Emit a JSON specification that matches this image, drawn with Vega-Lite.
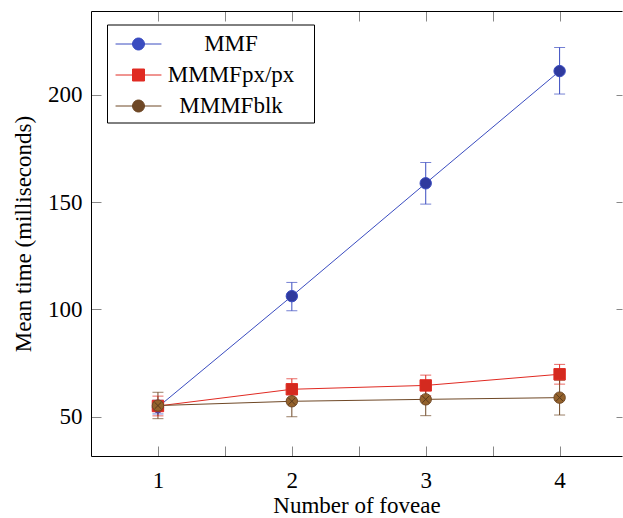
{
  "$schema": "https://vega.github.io/schema/vega-lite/v6.json",
  "width": 531,
  "height": 445,
  "autosize": {"type": "none"},
  "padding": {"left": 91, "top": 11, "right": 1, "bottom": 62},
  "background": "white",
  "config": {
    "view": {"stroke": null},
    "axis": {
      "grid": false,
      "domainColor": "black",
      "domainWidth": 1,
      "tickColor": "#888888",
      "tickWidth": 1,
      "labelFont": "Liberation Serif",
      "labelFontSize": 23,
      "labelColor": "black",
      "titleFont": "Liberation Serif",
      "titleFontSize": 23,
      "titleFontWeight": "normal",
      "titleColor": "black"
    },
    "legend": {
      "orient": "none", "legendX": 16, "legendY": 13.5, "title": null,
      "symbolSize": 900, "symbolStrokeWidth": 1, "symbolOpacity": 1, "symbolOffset": 12,
      "labelFont": "Liberation Serif", "labelFontSize": 23, "labelColor": "black",
      "labelAlign": "center", "labelOffset": 77, "labelLimit": 300,
      "padding": 4, "rowPadding": 3,
      "strokeColor": "black", "fillColor": "white", "cornerRadius": 0
    }
  },
  "data": {
    "values": [
      {"series": "MMF", "x": 1, "y": 54.5, "lo": 51.3, "hi": 57.7},
      {"series": "MMF", "x": 2, "y": 106.2, "lo": 99.4, "hi": 112.6},
      {"series": "MMF", "x": 3, "y": 158.8, "lo": 149.1, "hi": 168.5},
      {"series": "MMF", "x": 4, "y": 211.1, "lo": 200.4, "hi": 222.1},
      {"series": "MMMFpx/px", "x": 1, "y": 55.0, "lo": 50.4, "hi": 59.6},
      {"series": "MMMFpx/px", "x": 2, "y": 62.8, "lo": 57.8, "hi": 67.7},
      {"series": "MMMFpx/px", "x": 3, "y": 64.6, "lo": 59.8, "hi": 69.4},
      {"series": "MMMFpx/px", "x": 4, "y": 69.8, "lo": 65.2, "hi": 74.4},
      {"series": "MMMFblk", "x": 1, "y": 55.2, "lo": 49.1, "hi": 61.4},
      {"series": "MMMFblk", "x": 2, "y": 57.2, "lo": 50.0, "hi": 64.4},
      {"series": "MMMFblk", "x": 3, "y": 58.1, "lo": 50.5, "hi": 65.7},
      {"series": "MMMFblk", "x": 4, "y": 58.9, "lo": 50.8, "hi": 67.0}
    ]
  },
  "layer": [
    {
      "mark": {"type": "rule", "strokeWidth": 1},
      "encoding": {
        "x": {"field": "x", "type": "quantitative", "scale": {"domain": [0.5, 4.466], "nice": false, "zero": false},
          "axis": {"orient": "bottom", "title": "Number of foveae", "values": [1, 1.5, 2, 2.5, 3, 3.5, 4],
            "labelExpr": "datum.value % 1 ? '' : format(datum.value, 'd')", "tickSize": -10, "labelPadding": 23, "titlePadding": 2,
            "encode": {"ticks": {"y2": {"value": {"expr": "datum.value % 1 ? -6.5 : -10"}}}}}},
        "y": {"field": "lo", "type": "quantitative", "scale": {"domain": [31.7, 239.1], "nice": false, "zero": false},
          "axis": {"orient": "left", "title": "Mean time (milliseconds)", "values": [50, 100, 150, 200], "tickSize": -10, "labelPadding": 19, "titlePadding": 12}},
        "y2": {"field": "hi"},
        "color": {"field": "series", "type": "nominal", "scale": {"domain": ["MMF", "MMMFpx/px", "MMMFblk"], "range": ["#3a4cc0", "#e02a22", "#6f4826"]}}
      }
    },
    {
      "mark": {"type": "tick", "orient": "horizontal", "size": 11, "thickness": 1},
      "encoding": {
        "x": {"field": "x", "type": "quantitative", "axis": null},
        "y": {"field": "lo", "type": "quantitative", "axis": null},
        "color": {"field": "series", "type": "nominal"}
      }
    },
    {
      "mark": {"type": "tick", "orient": "horizontal", "size": 11, "thickness": 1},
      "encoding": {
        "x": {"field": "x", "type": "quantitative", "axis": null},
        "y": {"field": "hi", "type": "quantitative", "axis": null},
        "color": {"field": "series", "type": "nominal"}
      }
    },
    {
      "mark": {"type": "line", "strokeWidth": 1},
      "encoding": {
        "x": {"field": "x", "type": "quantitative",
          "axis": {"orient": "top", "title": null, "labels": false, "values": [1, 1.5, 2, 2.5, 3, 3.5, 4], "tickSize": -10,
            "encode": {"ticks": {"y2": {"value": {"expr": "datum.value % 1 ? 6.5 : 10"}}}}}},
        "y": {"field": "y", "type": "quantitative",
          "axis": {"orient": "right", "title": null, "labels": false, "domain": false, "values": [50, 100, 150, 200], "tickSize": -6}},
        "color": {"field": "series", "type": "nominal"}
      }
    },
    {
      "transform": [{"filter": "datum.series === 'MMF'"}],
      "mark": {"type": "point", "filled": false, "size": 130, "strokeWidth": 1, "opacity": 1, "shape": "circle"},
      "encoding": {
        "x": {"field": "x", "type": "quantitative", "axis": null},
        "y": {"field": "y", "type": "quantitative", "axis": null},
        "color": {"field": "series", "type": "nominal"},
        "fill": {"field": "series", "type": "nominal", "scale": {"domain": ["MMF", "MMMFpx/px", "MMMFblk"], "range": ["#2f3a9e", "#d42a1f", "#94622c"]}}
      }
    },
    {
      "transform": [{"filter": "datum.series === 'MMMFpx/px'"}],
      "mark": {"type": "point", "filled": false, "size": 130, "strokeWidth": 1, "opacity": 1, "shape": "square"},
      "encoding": {
        "x": {"field": "x", "type": "quantitative", "axis": null},
        "y": {"field": "y", "type": "quantitative", "axis": null},
        "color": {"field": "series", "type": "nominal"},
        "fill": {"field": "series", "type": "nominal"}
      }
    },
    {
      "transform": [{"filter": "datum.series === 'MMMFblk'"}],
      "mark": {"type": "point", "filled": false, "size": 130, "strokeWidth": 1, "opacity": 1, "shape": "circle"},
      "encoding": {
        "x": {"field": "x", "type": "quantitative", "axis": null},
        "y": {"field": "y", "type": "quantitative", "axis": null},
        "color": {"field": "series", "type": "nominal"},
        "fill": {"field": "series", "type": "nominal"}
      }
    },
    {
      "transform": [{"filter": "datum.series === 'MMMFblk'"}],
      "mark": {"type": "point", "filled": false, "size": 130, "strokeWidth": 1, "opacity": 1, "color": "#5a3a1c",
        "shape": "M-0.6,-0.6L0.6,0.6M-0.6,0.6L0.6,-0.6"},
      "encoding": {
        "x": {"field": "x", "type": "quantitative", "axis": null},
        "y": {"field": "y", "type": "quantitative", "axis": null}
      }
    },
    {
      "transform": [{"filter": "datum.x > 100"}],
      "mark": {"type": "point", "filled": false, "strokeWidth": 1, "opacity": 1},
      "encoding": {
        "x": {"field": "x", "type": "quantitative", "axis": null},
        "y": {"field": "y", "type": "quantitative", "axis": null},
        "color": {"field": "series", "type": "nominal"},
        "fill": {"field": "series", "type": "nominal"},
        "shape": {"field": "series", "type": "nominal",
          "scale": {"domain": ["MMF", "MMMFpx/px", "MMMFblk"],
            "range": [
              "M-1.53,0L1.53,0M0.4,0A0.4,0.4,0,1,1,-0.4,0A0.4,0.4,0,1,1,0.4,0ZM11.25,0",
              "M-1.53,0L1.53,0M-0.4,-0.4L0.4,-0.4L0.4,0.4L-0.4,0.4ZM11.25,0",
              "M-1.53,0L1.53,0M0.4,0A0.4,0.4,0,1,1,-0.4,0A0.4,0.4,0,1,1,0.4,0ZM-0.28,-0.28L0.28,0.28M-0.28,0.28L0.28,-0.28M11.25,0"
            ]}}
      }
    }
  ]
}
